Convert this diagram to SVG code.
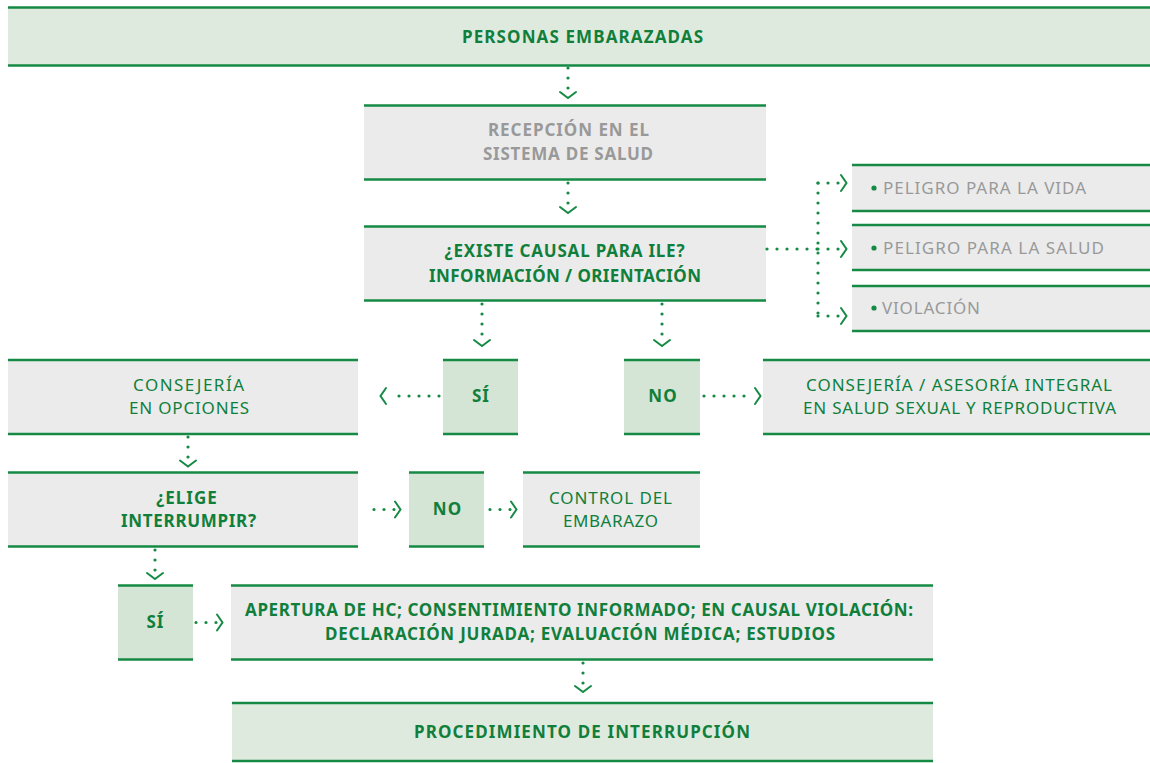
<svg xmlns="http://www.w3.org/2000/svg" width="1150" height="763" viewBox="0 0 1150 763">
<defs>
<style>
.bx{fill:#ebebeb}
.bl{fill:#dfeadf}
.bs{fill:#d4e4d5}
.ln{stroke:#168a44;stroke-width:2.5;fill:none}
.t{font-family:"Noto Sans","Liberation Sans",sans-serif;font-size:17px;letter-spacing:1px;text-anchor:middle}
.s{text-anchor:start}
.b{font-weight:bold}
.g{fill:#107f3b}
.gr{fill:#999999}
.dot{fill:none;stroke:#168a44;stroke-width:3.2;stroke-linecap:round;stroke-dasharray:0 10}
.ch{fill:none;stroke:#168a44;stroke-width:2;stroke-linecap:round;stroke-linejoin:miter}
</style>
</defs>
<rect width="1150" height="763" fill="#ffffff"/>

<g id="n-personas">
<rect class="bl" x="8" y="7.5" width="1142" height="58"/>
<path class="ln" d="M8 7.5H1150M8 65.5H1150"/>
<text class="t b g" x="583" y="43" textLength="242">PERSONAS EMBARAZADAS</text>
</g>

<g id="n-recepcion">
<rect class="bx" x="364" y="105.5" width="402" height="74"/>
<path class="ln" d="M364 105.5H766M364 179.5H766"/>
<text class="t b gr" x="569" y="135.5" textLength="162">RECEPCIÓN EN EL</text>
<text class="t b gr" x="568.5" y="160" textLength="171">SISTEMA DE SALUD</text>
</g>

<g id="n-ile">
<rect class="bx" x="364" y="226.5" width="402" height="74"/>
<path class="ln" d="M364 226.5H766M364 300.5H766"/>
<text class="t b g" x="565" y="256.5" textLength="241">¿EXISTE CAUSAL PARA ILE?</text>
<text class="t b g" x="565.5" y="281.5" textLength="273">INFORMACIÓN / ORIENTACIÓN</text>
</g>

<g id="n-vida">
<rect class="bx" x="852" y="165" width="298" height="46"/>
<path class="ln" d="M852 165H1150M852 211H1150"/>
<circle cx="874" cy="188" r="2.6" fill="#168a44"/>
<text class="t s gr" x="883" y="194" textLength="204">PELIGRO PARA LA VIDA</text>
</g>

<g id="n-salud">
<rect class="bx" x="852" y="225" width="298" height="45"/>
<path class="ln" d="M852 225H1150M852 270H1150"/>
<circle cx="874" cy="248" r="2.6" fill="#168a44"/>
<text class="t s gr" x="883" y="254" textLength="222">PELIGRO PARA LA SALUD</text>
</g>

<g id="n-violacion">
<rect class="bx" x="852" y="286" width="298" height="45"/>
<path class="ln" d="M852 286H1150M852 331H1150"/>
<circle cx="874" cy="308" r="2.6" fill="#168a44"/>
<text class="t s gr" x="882" y="314" textLength="99">VIOLACIÓN</text>
</g>

<g id="n-consejeria-opciones">
<rect class="bx" x="8" y="360" width="350" height="74"/>
<path class="ln" d="M8 360H358M8 434H358"/>
<text class="t g" x="189" y="390.5" textLength="112">CONSEJERÍA</text>
<text class="t g" x="189.5" y="414" textLength="121">EN OPCIONES</text>
</g>

<g id="n-si1">
<rect class="bs" x="443" y="360" width="75" height="74"/>
<path class="ln" d="M443 360H518M443 434H518"/>
<text class="t b g" x="481" y="402">SÍ</text>
</g>

<g id="n-no1">
<rect class="bs" x="624" y="360" width="76" height="74"/>
<path class="ln" d="M624 360H700M624 434H700"/>
<text class="t b g" x="663" y="402">NO</text>
</g>

<g id="n-asesoria">
<rect class="bx" x="763" y="360" width="387" height="74"/>
<path class="ln" d="M763 360H1150M763 434H1150"/>
<text class="t g" x="959.5" y="390.5" textLength="307">CONSEJERÍA / ASESORÍA INTEGRAL</text>
<text class="t g" x="960" y="414" textLength="314">EN SALUD SEXUAL Y REPRODUCTIVA</text>
</g>

<g id="n-elige">
<rect class="bx" x="8" y="472.5" width="350" height="74"/>
<path class="ln" d="M8 472.5H358M8 546.5H358"/>
<text class="t b g" x="187" y="503.5">¿ELIGE</text>
<text class="t b g" x="189" y="527" textLength="136">INTERRUMPIR?</text>
</g>

<g id="n-no2">
<rect class="bs" x="409" y="472.5" width="75" height="74"/>
<path class="ln" d="M409 472.5H484M409 546.5H484"/>
<text class="t b g" x="447.5" y="515">NO</text>
</g>

<g id="n-control">
<rect class="bx" x="523" y="472.5" width="177" height="74"/>
<path class="ln" d="M523 472.5H700M523 546.5H700"/>
<text class="t g" x="611" y="503.5" textLength="124">CONTROL DEL</text>
<text class="t g" x="611" y="527" textLength="96">EMBARAZO</text>
</g>

<g id="n-si2">
<rect class="bs" x="118" y="585.5" width="75" height="74"/>
<path class="ln" d="M118 585.5H193M118 659.5H193"/>
<text class="t b g" x="155.5" y="628">SÍ</text>
</g>

<g id="n-apertura">
<rect class="bx" x="231" y="585.5" width="702" height="74"/>
<path class="ln" d="M231 585.5H933M231 659.5H933"/>
<text class="t b g" x="579.5" y="616" textLength="669">APERTURA DE HC; CONSENTIMIENTO INFORMADO; EN CAUSAL VIOLACIÓN:</text>
<text class="t b g" x="580.5" y="640" textLength="511">DECLARACIÓN JURADA; EVALUACIÓN MÉDICA; ESTUDIOS</text>
</g>

<g id="n-procedimiento">
<rect class="bl" x="232" y="703" width="701" height="58"/>
<path class="ln" d="M232 703H933M232 761H933"/>
<text class="t b g" x="582.5" y="738" textLength="337">PROCEDIMIENTO DE INTERRUPCIÓN</text>
</g>

<g id="connectors">
<path class="dot" d="M568 68V90"/>
<path class="ch" d="M560 92L568 98L576 92"/>
<path class="dot" d="M568 183V204"/>
<path class="ch" d="M560 207L568 213L576 207"/>
<path class="dot" d="M767 249H818"/>
<path class="dot" d="M818 183V317"/>
<path class="dot" d="M818 183H839M818 249H839M818 316H839"/>
<path class="ch" d="M841 175L846.5 183L841 191M841 241L846.5 249L841 257M841 308L846.5 316L841 324"/>
<path class="dot" d="M482 304V335"/>
<path class="ch" d="M474 340L482 346L490 340"/>
<path class="dot" d="M662 304V335"/>
<path class="ch" d="M654 340L662 346L670 340"/>
<path class="dot" d="M439 396H389"/>
<path class="ch" d="M386 388L380.5 396L386 404"/>
<path class="dot" d="M704 396H754"/>
<path class="ch" d="M755 388L760.5 396L755 404"/>
<path class="dot" d="M188 437V458"/>
<path class="ch" d="M180 460.5L188 466.5L196 460.5"/>
<path class="dot" d="M374 509.5H395"/>
<path class="ch" d="M395 501.5L400.5 509.5L395 517.5"/>
<path class="dot" d="M490 509.5H511"/>
<path class="ch" d="M511 501.5L516.5 509.5L511 517.5"/>
<path class="dot" d="M155 550V571"/>
<path class="ch" d="M147 573L155 579L163 573"/>
<path class="dot" d="M196 622.5H217"/>
<path class="ch" d="M217 614.5L222.5 622.5L217 630.5"/>
<path class="dot" d="M583 663V684"/>
<path class="ch" d="M575 686L583 692L591 686"/>
</g>
</svg>
